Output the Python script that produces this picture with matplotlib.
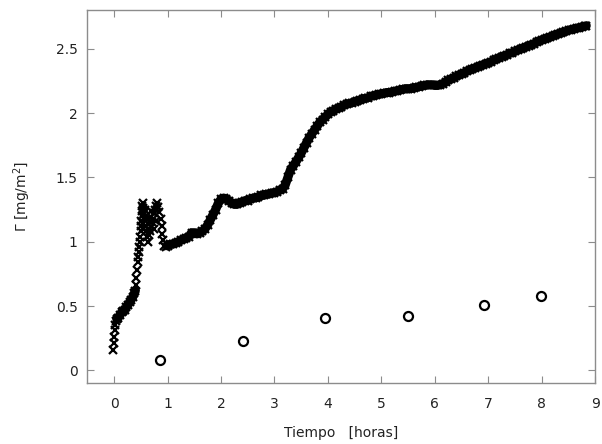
import matplotlib
matplotlib.use("Agg")
import matplotlib.pyplot as plt

# adsorbed amount vs time
tiempo = [
    -0.02, 0.00, 0.00, 0.01, 0.02, 0.03, 0.05, 0.08, 0.11, 0.14, 0.17, 0.20,
    0.23, 0.26, 0.29, 0.32, 0.35, 0.38, 0.40, 0.42, 0.42, 0.43, 0.44, 0.45,
    0.46, 0.47, 0.48, 0.49, 0.50, 0.50, 0.51, 0.52, 0.52, 0.53, 0.54, 0.55,
    0.56, 0.57, 0.58, 0.60, 0.62, 0.63, 0.65, 0.66, 0.67, 0.69, 0.71, 0.73,
    0.75, 0.77, 0.79, 0.81, 0.83, 0.85, 0.87, 0.89, 0.90, 0.92, 0.94, 0.97,
    0.60, 0.64, 0.70, 0.74, 0.55, 0.58, 0.68, 0.78,
    1.00, 1.05, 1.10, 1.15, 1.20, 1.25, 1.30, 1.35, 1.40, 1.45, 1.50, 1.55,
    1.60, 1.65, 1.70, 1.75, 1.80, 1.85, 1.90, 1.95, 2.00, 2.05, 2.10, 2.15,
    2.20, 2.25, 2.30, 2.35, 2.40, 2.45, 2.50, 2.55, 2.60, 2.65, 2.70, 2.75,
    2.80, 2.85, 2.90, 2.95, 3.00, 3.05, 3.10, 3.15, 3.20, 3.25, 3.30, 3.35,
    3.40, 3.45, 3.50, 3.55, 3.60, 3.65, 3.70, 3.75, 3.80, 3.85, 3.90, 3.95,
    4.00, 4.05, 4.10, 4.15, 4.20, 4.25, 4.30, 4.35, 4.40, 4.45, 4.50, 4.55,
    4.60, 4.65, 4.70, 4.75, 4.80, 4.85, 4.90, 4.95, 5.00, 5.05, 5.10, 5.15,
    5.20, 5.25, 5.30, 5.35, 5.40, 5.45, 5.50, 5.55, 5.60, 5.65, 5.70, 5.75,
    5.80, 5.85, 5.90, 5.95, 6.00, 6.05, 6.10, 6.15, 6.20, 6.25, 6.30, 6.35,
    6.40, 6.45, 6.50, 6.55, 6.60, 6.65, 6.70, 6.75, 6.80, 6.85, 6.90, 6.95,
    7.00, 7.05, 7.10, 7.15, 7.20, 7.25, 7.30, 7.35, 7.40, 7.45, 7.50, 7.55,
    7.60, 7.65, 7.70, 7.75, 7.80, 7.85, 7.90, 7.95, 8.00, 8.05, 8.10, 8.15,
    8.20, 8.25, 8.30, 8.35, 8.40, 8.45, 8.50, 8.55, 8.60, 8.65, 8.70, 8.75,
    8.80, 8.83,
]
gamma = [
    0.16, 0.21, 0.26, 0.31, 0.35, 0.38, 0.40, 0.41, 0.43, 0.45, 0.46, 0.47,
    0.49, 0.51, 0.53, 0.55, 0.57, 0.60, 0.62, 0.66, 0.72, 0.78, 0.84, 0.88,
    0.92, 0.96, 1.00, 1.04, 1.08, 1.12, 1.16, 1.20, 1.24, 1.28, 1.30, 1.26,
    1.22, 1.17, 1.12, 1.08, 1.04, 1.00, 1.05, 1.10, 1.15, 1.19, 1.15, 1.18,
    1.22, 1.25, 1.28, 1.30, 1.27, 1.23, 1.18, 1.12, 1.06, 1.01, 0.97, 0.96,
    1.20, 1.14, 1.24, 1.10, 1.10, 1.25, 1.08, 1.16,
    0.97, 0.98, 0.98, 0.99, 1.00, 1.01, 1.02, 1.03, 1.04, 1.07, 1.07, 1.06,
    1.07, 1.08, 1.10, 1.13, 1.17, 1.21, 1.25, 1.30, 1.33, 1.34, 1.33, 1.32,
    1.30, 1.29, 1.29, 1.30, 1.31, 1.32, 1.32, 1.33, 1.34, 1.34, 1.35, 1.36,
    1.36, 1.37, 1.37, 1.38, 1.38, 1.39, 1.40, 1.41, 1.44, 1.50, 1.56, 1.59,
    1.62, 1.655, 1.69, 1.73, 1.77, 1.81, 1.84, 1.87, 1.90, 1.93, 1.95, 1.97,
    1.99, 2.01, 2.02, 2.03, 2.04, 2.05, 2.06, 2.07, 2.075, 2.08, 2.09, 2.095,
    2.10, 2.11, 2.115, 2.12, 2.13, 2.135, 2.14, 2.145, 2.15, 2.155, 2.16, 2.16,
    2.165, 2.17, 2.175, 2.18, 2.185, 2.19, 2.19, 2.19, 2.195, 2.20, 2.205, 2.21,
    2.215, 2.22, 2.22, 2.22, 2.215, 2.215, 2.22, 2.23, 2.24, 2.255, 2.265, 2.275,
    2.285, 2.295, 2.305, 2.315, 2.325, 2.335, 2.345, 2.35, 2.36, 2.37, 2.375, 2.385,
    2.39, 2.40, 2.41, 2.42, 2.43, 2.44, 2.445, 2.455, 2.465, 2.47, 2.48, 2.49,
    2.50, 2.505, 2.515, 2.525, 2.53, 2.54, 2.55, 2.56, 2.57, 2.575, 2.585, 2.59,
    2.60, 2.61, 2.615, 2.62, 2.63, 2.635, 2.645, 2.65, 2.655, 2.66, 2.665, 2.67,
    2.675, 2.68,
]

# circles
tiempo_c = [0.86, 2.41, 3.95, 5.50, 6.92, 7.99]
gamma_c = [0.081, 0.231, 0.405, 0.425, 0.510, 0.575]

xticks = [0, 1, 2, 3, 4, 5, 6, 7, 8, 9]
yticks = [0, 0.5, 1, 1.5, 2, 2.5]
ytick_labels = ["0", "0.5", "1", "1.5", "2", "2.5"]

# stretches where the x marks overlap into a solid band
bands = [(tiempo.index(0.05), tiempo.index(0.40) + 1),
         (tiempo.index(1.00), len(tiempo))]

fig = plt.figure(figsize=(6.02, 4.44), dpi=100)
ax = fig.add_axes([0.145, 0.137, 0.844, 0.840])

for i0, i1 in bands:
    ax.plot(tiempo[i0:i1], gamma[i0:i1], color="black", linewidth=6.5,
            solid_joinstyle="round", solid_capstyle="round")
ax.plot(tiempo, gamma, linestyle="none", marker="x", color="black",
        markersize=6, markeredgewidth=1.6)
ax.plot(tiempo_c, gamma_c, linestyle="none", marker="o", markerfacecolor="none",
        markeredgecolor="black", markersize=6.5, markeredgewidth=1.6)

ax.set_xlim(-0.5, 9)
ax.set_ylim(-0.1, 2.8)
ax.set_xticks(xticks)
ax.set_xticklabels([str(t) for t in xticks])
ax.set_yticks(yticks)
ax.set_yticklabels(ytick_labels)

for s in ax.spines.values():
    s.set_color("#8c8c8c")
    s.set_linewidth(1.0)
ax.tick_params(direction="in", length=5, width=0.8, color="#8c8c8c",
               labelsize=10, labelcolor="#222222", top=True, right=True)
ax.tick_params(axis="x", pad=10)
ax.tick_params(axis="y", pad=7)

ax.set_xlabel("Tiempo   [horas]", fontsize=10, color="#222222", labelpad=11)
ax.set_ylabel("Γ [mg/m$^2$]", fontsize=10, color="#222222", labelpad=16)

fig.savefig("out.png", dpi=100)
